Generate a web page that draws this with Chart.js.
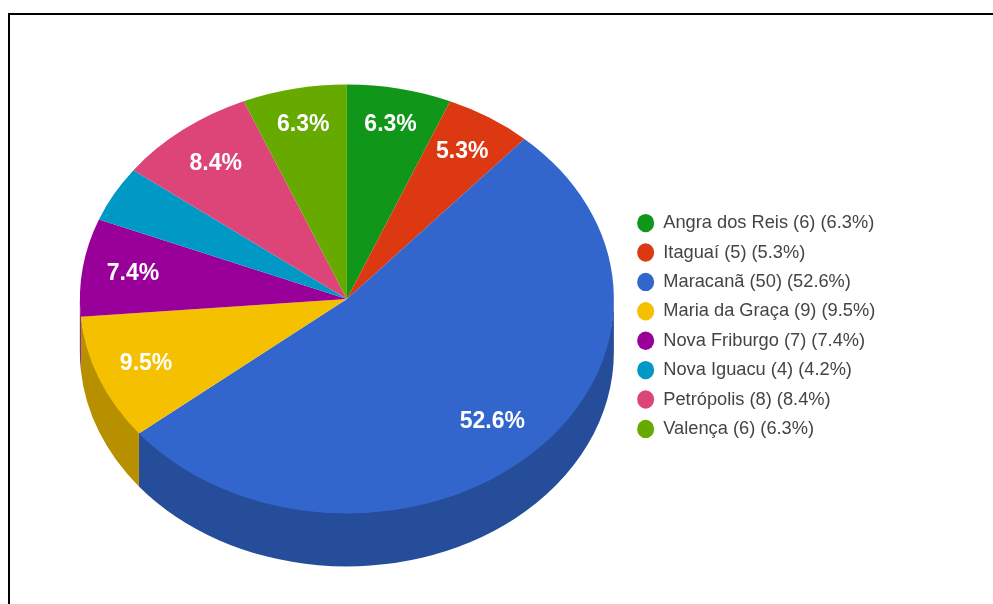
<!DOCTYPE html>
<html>
<head>
<meta charset="utf-8">
<style>
html,body{margin:0;padding:0;background:#fff;overflow:hidden;width:993px;height:604px}
#wrap{position:relative;width:993px;height:604px;overflow:hidden}
#frame{position:absolute;left:8px;top:13px;width:1100px;height:700px;border:2px solid #000;pointer-events:none}
canvas{position:absolute;left:0;top:0}
</style>
<script src="https://cdn.jsdelivr.net/npm/chart.js@4"></script>
</head>
<body>
<div id="wrap">
<div id="frame"></div>
<canvas id="c" width="993" height="604"></canvas>
</div>
<script>
const categories = ["Angra dos Reis","Itaguaí","Maracanã","Maria da Graça","Nova Friburgo","Nova Iguacu","Petrópolis","Valença"];
const counts = [6,5,50,9,7,4,8,6];
const percents = ["6.3%","5.3%","52.6%","9.5%","7.4%","4.2%","8.4%","6.3%"];
const sliceLabels = ["6.3%","5.3%","52.6%","9.5%","7.4%","","8.4%","6.3%"];
const topColors = ["#109618","#dc3912","#3366cc","#f4c000","#990099","#0099c6","#dd4477","#66aa00"];
const sideColors = ["#0c7112","#a52b0e","#264d99","#b79000","#730073","#007395","#a63359","#4d8000"];

const squash = 0.803;
const depth = 53;
const labelFractions = [0.83,0.81,0.79,0.81,0.81,0,0.80,0.83];

const pie3d = {
  id:'pie3d',
  beforeDatasetsDraw(chart){
    const ctx = chart.ctx, arcs = chart.getDatasetMeta(0).data;
    const cy = arcs[0].y;
    arcs.forEach((a,i)=>{
      const s = Math.max(a.startAngle,0), e = Math.min(a.endAngle,Math.PI);
      if(s>=e) return;
      const r = a.outerRadius;
      ctx.fillStyle = sideColors[i];
      ctx.beginPath();
      ctx.ellipse(a.x,a.y-2,r,r*squash,0,s,e);
      ctx.ellipse(a.x,a.y+depth,r,r*squash,0,e,s,true);
      ctx.closePath();
      ctx.fill();
    });
    ctx.save();
    ctx.translate(0,cy);
    ctx.scale(1,squash);
    ctx.translate(0,-cy);
  },
  afterDatasetsDraw(chart){
    const ctx = chart.ctx, arcs = chart.getDatasetMeta(0).data;
    ctx.restore();
    ctx.save();
    ctx.font = 'bold 23px "Liberation Sans", Arial, sans-serif';
    ctx.fillStyle = '#fff';
    ctx.textAlign = 'center';
    ctx.textBaseline = 'middle';
    arcs.forEach((a,i)=>{
      if(!sliceLabels[i]) return;
      const m = (a.startAngle+a.endAngle)/2, r = a.outerRadius*labelFractions[i];
      ctx.fillText(sliceLabels[i], a.x+Math.cos(m)*r, a.y+Math.sin(m)*r*squash);
    });
    ctx.restore();
  },
  afterLayout(chart){
    const l = chart.legend;
    const dx = 626 - l.left, dy = 27;
    l.left += dx; l.right += dx; l.top += dy; l.bottom += dy;
  }
};

new Chart(document.getElementById('c'),{
  type:'pie',
  data:{
    labels:categories,
    datasets:[{data:counts,backgroundColor:topColors,borderWidth:0,clip:false,hoverOffset:0}]
  },
  options:{
    responsive:false,
    animation:false,
    layout:{padding:{left:60,right:100,top:32,bottom:38}},
    plugins:{
      tooltip:{enabled:false},
      legend:{
        position:'right',
        align:'center',
        labels:{
          usePointStyle:true,
          pointStyle:'circle',
          pointStyleWidth:17,
          boxHeight:13,
          padding:11.15,
          color:'#444',
          font:{family:'"Liberation Sans", Arial, sans-serif',size:18.25},
          generateLabels(){
            return categories.map((n,i)=>({
              text:`${n} (${counts[i]}) (${percents[i]})`,
              fillStyle:topColors[i],strokeStyle:topColors[i],lineWidth:0,
              fontColor:'#444',
              pointStyle:'circle',index:i,hidden:false
            }));
          }
        }
      }
    }
  },
  plugins:[pie3d]
});
</script>
</body>
</html>
